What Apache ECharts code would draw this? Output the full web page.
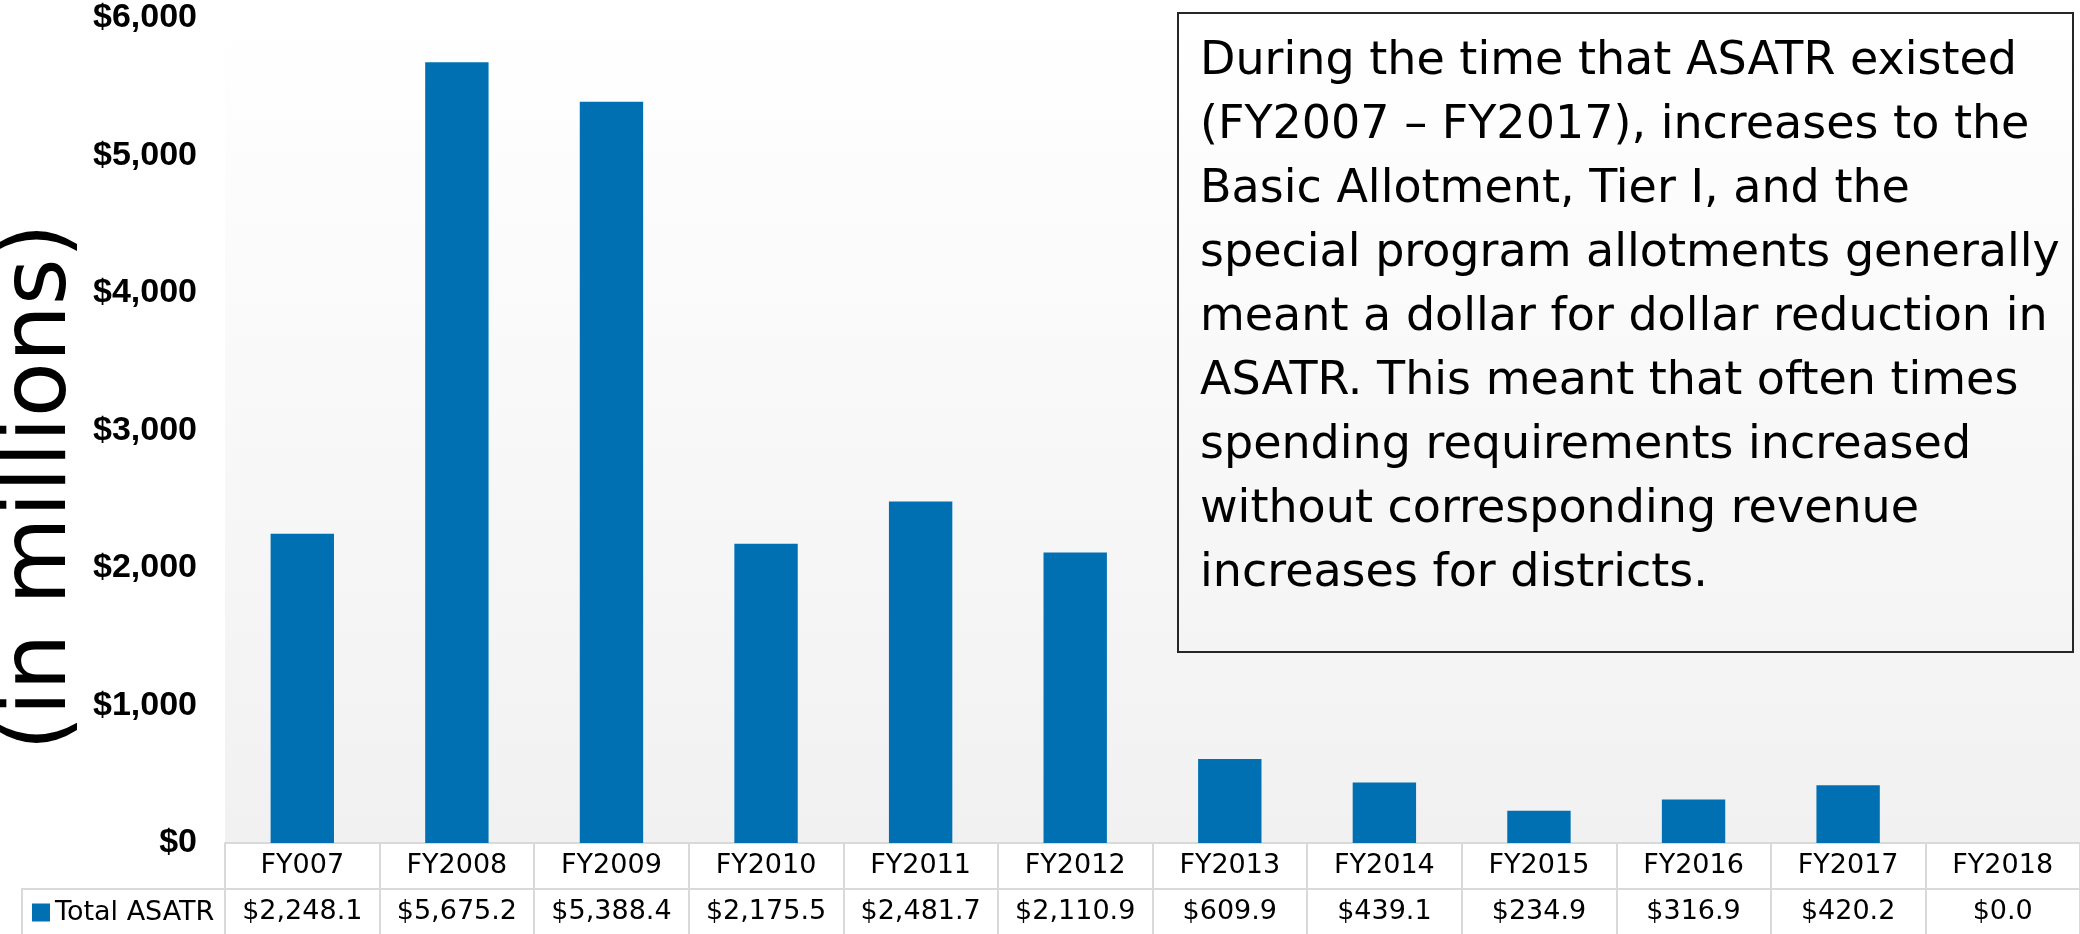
<!DOCTYPE html>
<html>
<head>
<meta charset="utf-8">
<title>Total ASATR</title>
<script src="https://cdn.jsdelivr.net/npm/echarts@6.0.0/dist/echarts.min.js"></script>
<style>
  html, body { margin: 0; padding: 0; background: #fff; }
  #chart { width: 2080px; height: 934px; }
</style>
</head>
<body>
<div id="chart"></div>
<script>
// data
const categories = ['FY007', 'FY2008', 'FY2009', 'FY2010', 'FY2011', 'FY2012',
  'FY2013', 'FY2014', 'FY2015', 'FY2016', 'FY2017', 'FY2018']
const totalAsatr = [2248.1, 5675.2, 5388.4, 2175.5, 2481.7, 2110.9,
  609.9, 439.1, 234.9, 316.9, 420.2, 0.0]
const yMin = 0
const yMax = 6000
const yStep = 1000
const seriesName = 'Total ASATR'
const axisTitle = '(in millions)'
const noteLines = [
  'During the time that ASATR existed',
  '(FY2007 \u2013 FY2017), increases to the',
  'Basic Allotment, Tier I, and the',
  'special program allotments generally',
  'meant a dollar for dollar reduction in',
  'ASATR. This meant that often times',
  'spending requirements increased',
  'without corresponding revenue',
  'increases for districts.',
]

const tableFont = 'DejaVu Sans'
const borderColor = '#d9d9d9'
const barColor = '#0070b3'

const money = (v) => '$' + v.toLocaleString('en-US', { minimumFractionDigits: 1, maximumFractionDigits: 1 })

const chart = echarts.init(document.getElementById('chart'))

const options = {
  animation: false,
  grid: {
    left: 225,
    right: 0,
    top: 17.6,
    bottom: 91,
    outerBoundsMode: 'none',
    show: true,
    borderWidth: 0,
    backgroundColor: new echarts.graphic.LinearGradient(0, 0, 0, 1, [
      { offset: 0, color: '#ffffff' },
      { offset: 1, color: '#f1f1f1' },
    ]),
  },
  legend: {
    data: [seriesName],
    left: 32,
    top: 899,
    padding: 0,
    icon: 'rect',
    itemWidth: 18,
    itemHeight: 18,
    selectedMode: false,
    textStyle: { fontFamily: tableFont, fontSize: 27, color: '#000' },
  },
  xAxis: [
    {
      type: 'category',
      data: categories,
      position: 'bottom',
      axisLine: { lineStyle: { color: borderColor, width: 2 } },
      axisTick: { show: true, interval: 0, length: 91, lineStyle: { color: borderColor, width: 2 } },
      axisLabel: { interval: 0, margin: 9, color: '#000', fontFamily: tableFont, fontSize: 27 },
    },
    {
      type: 'category',
      data: categories,
      position: 'bottom',
      offset: 46,
      axisLine: { lineStyle: { color: borderColor, width: 2 } },
      axisTick: { show: false },
      axisLabel: {
        interval: 0,
        margin: 9,
        color: '#000',
        fontFamily: tableFont,
        fontSize: 27,
        formatter: (val, idx) => money(totalAsatr[idx]),
      },
    },
  ],
  yAxis: {
    type: 'value',
    min: yMin,
    max: yMax,
    interval: yStep,
    axisLine: { show: false },
    axisTick: { show: false },
    splitLine: { show: false },
    axisLabel: {
      margin: 28,
      color: '#000',
      fontFamily: 'Liberation Sans',
      fontWeight: 'bold',
      fontSize: 34,
      formatter: (v) => '$' + v.toLocaleString('en-US'),
    },
  },
  series: [
    {
      name: seriesName,
      type: 'bar',
      xAxisIndex: 0,
      data: totalAsatr,
      barWidth: '41%',
      itemStyle: { color: barColor },
    },
  ],
  graphic: [
    // legend cell border of the data table
    {
      type: 'polyline',
      shape: { points: [[22, 934], [22, 889], [225, 889]] },
      style: { stroke: borderColor, lineWidth: 2, fill: null },
    },
    // vertical axis title
    {
      type: 'text',
      x: 42,
      y: 487,
      rotation: Math.PI / 2,
      style: {
        text: axisTitle,
        font: '90px DejaVu Sans',
        fill: '#000',
        align: 'center',
        verticalAlign: 'middle',
      },
    },
    // note box
    {
      type: 'rect',
      shape: { x: 1178, y: 13, width: 895, height: 639 },
      style: { fill: 'none', stroke: '#262626', lineWidth: 2 },
    },
    {
      type: 'text',
      x: 1200,
      y: 30,
      style: {
        text: noteLines.join('\n'),
        font: '46px DejaVu Sans',
        lineHeight: 64,
        fill: '#000',
        align: 'left',
        verticalAlign: 'top',
      },
    },
  ],
}

chart.setOption(options)
</script>
</body>
</html>
